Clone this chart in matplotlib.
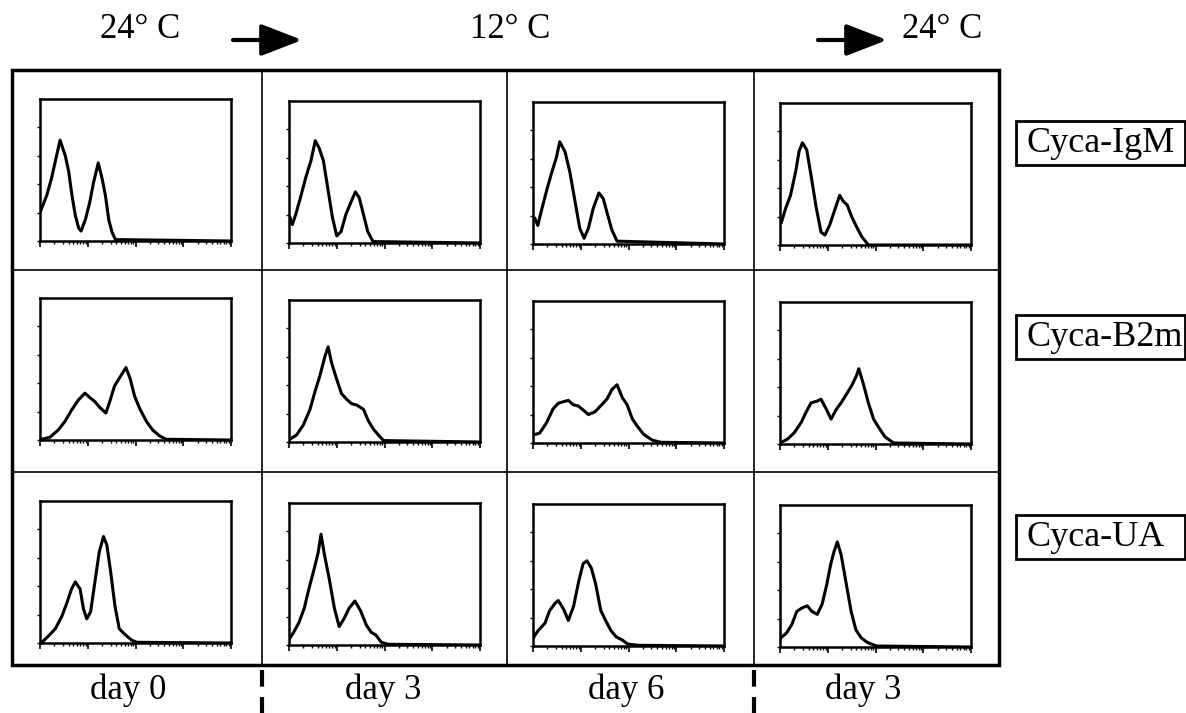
import matplotlib
matplotlib.use('Agg')
import matplotlib.pyplot as plt
import numpy as np
from matplotlib.patches import Rectangle
from matplotlib.ticker import FixedLocator

plt.rcParams['font.family'] = ['Liberation Serif', 'DejaVu Serif']

# ---- data: log10 fluorescence (0-4 decades) and relative cell counts ----
# row 1: Cyca-IgM
igm_d0_log = [0, 0.14, 0.24, 0.32, 0.42, 0.53, 0.60, 0.67, 0.74, 0.81, 0.86, 0.95, 1.04, 1.12, 1.22, 1.30, 1.37, 1.44, 1.51, 1.58, 4.0]
igm_d0_cnt = [20, 32, 44, 56, 71, 60, 49, 32, 18, 9, 7, 15, 27, 41, 55, 44, 32, 15, 6, 1, 0]
igm_d3_log = [0.02, 0.07, 0.14, 0.24, 0.35, 0.46, 0.55, 0.63, 0.72, 0.81, 0.91, 1.00, 1.09, 1.19, 1.30, 1.39, 1.47, 1.56, 1.65, 1.76, 4.0]
igm_d3_cnt = [18, 13, 20, 32, 46, 58, 72, 67, 58, 39, 18, 5, 8, 20, 29, 36, 32, 20, 8, 1, 0]
igm_d6_log = [0.04, 0.10, 0.18, 0.28, 0.38, 0.49, 0.56, 0.67, 0.77, 0.88, 0.98, 1.07, 1.16, 1.26, 1.38, 1.47, 1.56, 1.65, 1.76, 4.0]
igm_d6_cnt = [18, 13, 24, 37, 49, 61, 72, 65, 51, 30, 11, 4, 11, 25, 36, 32, 21, 10, 2, 0]
igm_r3_log = [0.03, 0.12, 0.22, 0.33, 0.40, 0.47, 0.56, 0.65, 0.76, 0.86, 0.94, 1.04, 1.14, 1.25, 1.32, 1.41, 1.50, 1.60, 1.71, 1.85, 4.0]
igm_r3_cnt = [16, 26, 35, 52, 66, 72, 67, 49, 26, 9, 7, 14, 24, 35, 31, 28, 20, 13, 6, 0, 0]

# row 2: Cyca-B2m
b2m_d0_log = [0.04, 0.21, 0.38, 0.52, 0.66, 0.80, 0.94, 1.04, 1.15, 1.25, 1.38, 1.46, 1.56, 1.67, 1.80, 1.89, 1.98, 2.09, 2.23, 2.36, 2.50, 2.64, 4.0]
b2m_d0_cnt = [0.5, 2, 7, 13, 21, 28, 33, 30, 27, 23, 19, 27, 38, 44, 51, 43, 31, 22, 13, 7, 3, 0.5, 0]
b2m_d3_log = [0.02, 0.16, 0.30, 0.44, 0.54, 0.65, 0.75, 0.82, 0.89, 1.00, 1.10, 1.21, 1.31, 1.42, 1.56, 1.66, 1.77, 1.87, 1.98, 4.0]
b2m_d3_cnt = [2, 5, 12, 23, 35, 47, 60, 67, 56, 44, 34, 30, 27, 26, 23, 15, 9, 5, 1, 0]
b2m_d6_log = [0.04, 0.14, 0.28, 0.42, 0.53, 0.63, 0.74, 0.84, 0.95, 1.06, 1.16, 1.30, 1.44, 1.55, 1.66, 1.76, 1.87, 1.97, 2.08, 2.18, 2.32, 2.50, 2.68, 4.0]
b2m_d6_cnt = [6, 7, 14, 24, 28, 29, 30, 27, 26, 23, 20, 22, 27, 31, 38, 41, 32, 27, 17, 12, 6, 2, 0.5, 0]
b2m_r3_log = [0.02, 0.16, 0.30, 0.44, 0.54, 0.65, 0.76, 0.86, 0.97, 1.07, 1.18, 1.28, 1.39, 1.50, 1.60, 1.65, 1.74, 1.85, 1.96, 2.06, 2.20, 2.38, 4.0]
b2m_r3_cnt = [1, 3.5, 8, 15, 22, 29, 30, 31.5, 24.5, 17.5, 24.5, 29, 35, 41, 48, 53, 43, 29, 17.5, 12, 5, 0.7, 0]

# row 3: Cyca-UA
ua_d0_log = [0.04, 0.18, 0.32, 0.46, 0.56, 0.66, 0.74, 0.84, 0.91, 0.98, 1.06, 1.15, 1.24, 1.33, 1.40, 1.48, 1.57, 1.66, 1.78, 1.92, 2.03, 4.0]
ua_d0_cnt = [0.5, 5, 10, 19, 28, 38, 43, 38, 24, 17, 22, 43, 64, 75, 69, 50, 26, 10, 6, 2, 0.5, 0]
ua_d3_log = [0.02, 0.10, 0.21, 0.32, 0.42, 0.53, 0.61, 0.67, 0.74, 0.84, 0.95, 1.05, 1.16, 1.26, 1.38, 1.50, 1.62, 1.72, 1.82, 1.93, 2.07, 4.0]
ua_d3_cnt = [5, 9, 16, 26, 40, 54, 65, 78, 64, 47, 26, 13, 19, 26, 31, 24, 14, 9, 7, 2, 0.5, 0]
ua_d6_log = [0.02, 0.11, 0.25, 0.35, 0.46, 0.53, 0.64, 0.74, 0.85, 0.96, 1.05, 1.13, 1.22, 1.31, 1.42, 1.52, 1.63, 1.74, 1.88, 1.98, 2.20, 4.0]
ua_d6_cnt = [6.5, 11, 16, 25, 30, 32, 26, 18, 28, 46, 58, 60, 55, 44, 25, 18, 11, 6.5, 4, 1.4, 0.5, 0]
ua_r3_log = [0.02, 0.14, 0.25, 0.35, 0.46, 0.57, 0.67, 0.78, 0.88, 0.98, 1.06, 1.13, 1.20, 1.28, 1.38, 1.49, 1.59, 1.70, 1.84, 2.02, 4.0]
ua_r3_cnt = [6.5, 10, 16, 25, 27.5, 29, 25, 23, 30, 44, 58, 67, 74, 65, 46, 25, 12, 6.5, 3, 0.7, 0]

row_labels = ['Cyca-IgM', 'Cyca-B2m', 'Cyca-UA']
day_labels = ['day 0', 'day 3', 'day 6', 'day 3']
temp_labels = ['24° C', '12° C', '24° C']

curves = [
    [(igm_d0_log, igm_d0_cnt), (igm_d3_log, igm_d3_cnt), (igm_d6_log, igm_d6_cnt), (igm_r3_log, igm_r3_cnt)],
    [(b2m_d0_log, b2m_d0_cnt), (b2m_d3_log, b2m_d3_cnt), (b2m_d6_log, b2m_d6_cnt), (b2m_r3_log, b2m_r3_cnt)],
    [(ua_d0_log, ua_d0_cnt), (ua_d3_log, ua_d3_cnt), (ua_d6_log, ua_d6_cnt), (ua_r3_log, ua_r3_cnt)],
]

W, H = 1186, 713
fig = plt.figure(figsize=(W / 100, H / 100), dpi=100)

# background layer in pixel coordinates
bg = fig.add_axes([0, 0, 1, 1])
bg.set_xlim(0, W)
bg.set_ylim(H, 0)
bg.axis('off')

# table frame
bg.add_patch(Rectangle((12, 70), 987, 595, fill=False, lw=2.5, ec='k'))
for xv in [262, 507, 754]:
    bg.plot([xv, xv], [70, 665], color='k', lw=1.2)
for yv in [270, 472]:
    bg.plot([12, 999], [yv, yv], color='k', lw=1.2)

# temperature header
for xc, t in zip([140, 510, 942], temp_labels):
    bg.text(xc, 30, t, fontsize=25, ha='center', va='center')
for x0, x1 in [(233, 302), (818, 887)]:
    bg.annotate('', xy=(x1, 40), xytext=(x0, 40),
                arrowprops=dict(arrowstyle='-|>,head_length=0.9,head_width=0.35',
                                lw=3, color='k', mutation_scale=28, shrinkA=0, shrinkB=0))

# day labels under the columns
for xc, d in zip([128, 383, 626, 863], day_labels):
    bg.text(xc, 690, d, fontsize=25, ha='center', va='center')
for xv in [262, 754]:
    bg.plot([xv, xv], [670, 713], color='k', lw=3, linestyle=(0, (4, 2.5)))

# row labels in boxes
for yc, lab in zip([143, 337, 537], row_labels):
    bg.add_patch(Rectangle((1016, yc - 22), 169, 44, fill=False, lw=2, ec='k'))
    bg.text(1026, yc, lab, fontsize=26, ha='left', va='center')

# histogram panels
col_x = [40, 289, 533, 780]
row_y = [99, 298, 501]
col_dy = [0, 2, 3, 4]
pw, ph = 191, 142

major = [10.0 ** d for d in range(5)]
minor = [k * 10.0 ** d for d in range(4) for k in range(2, 10)]

for r in range(3):
    for c in range(4):
        x0 = col_x[c]
        y0 = row_y[r] + col_dy[c]
        ax = fig.add_axes([x0 / W, 1 - (y0 + ph) / H, pw / W, ph / H])
        lg, cnt = curves[r][c]
        ax.plot(10 ** np.array(lg), cnt, color='k', lw=2.2)
        ax.set_xscale('log')
        ax.set_xlim(1, 1e4)
        ax.set_ylim(0, 100)
        ax.xaxis.set_major_locator(FixedLocator(major))
        ax.xaxis.set_minor_locator(FixedLocator(minor))
        ax.set_yticks([0, 20, 40, 60, 80])
        ax.set_yticklabels([])
        ax.set_xticklabels([], minor=True)
        ax.set_xticklabels([])
        ax.tick_params(axis='x', which='major', direction='out', length=4, width=1.2)
        ax.tick_params(axis='x', which='minor', direction='out', length=2, width=1)
        ax.tick_params(axis='y', direction='out', length=2.5, width=1)
        for s in ax.spines.values():
            s.set_linewidth(1.8)

fig.savefig('out.png', dpi=100)
